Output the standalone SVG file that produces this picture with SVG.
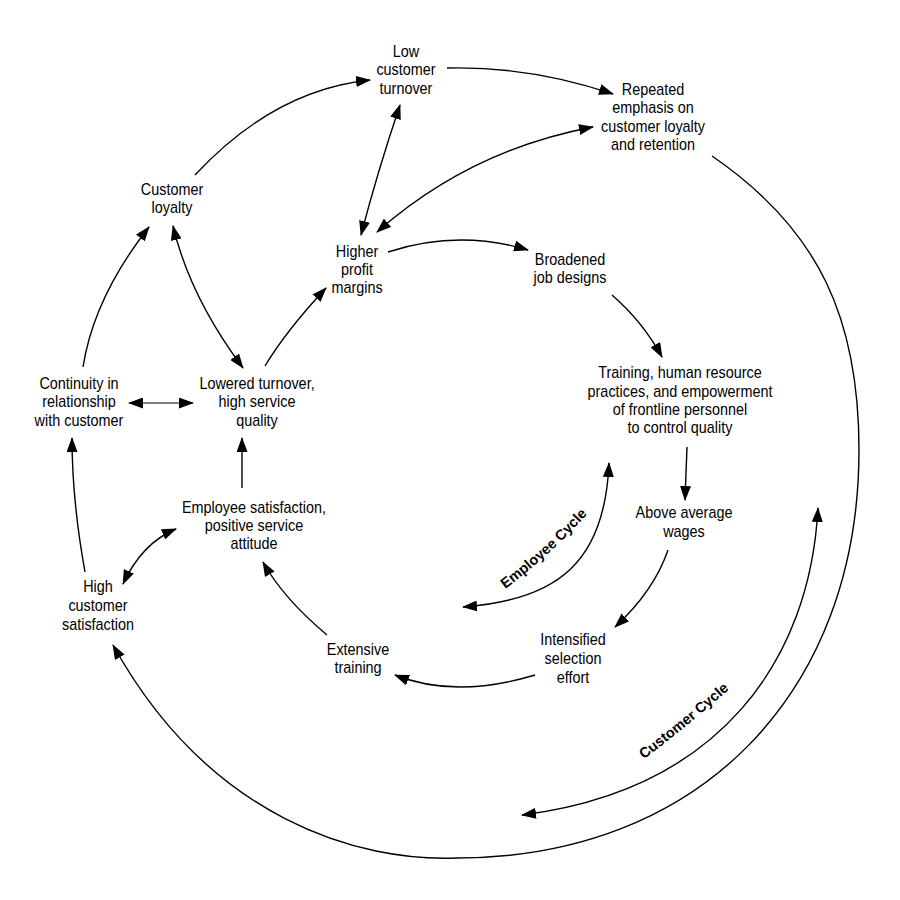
<svg xmlns="http://www.w3.org/2000/svg" width="900" height="900" viewBox="0 0 900 900">
<defs>
<style>
.t{font-family:"Liberation Sans",Arial,sans-serif;font-size:16px;fill:#000;text-anchor:middle}
.lab{font-family:"Liberation Sans",Arial,sans-serif;font-size:14.5px;font-weight:bold;fill:#000;text-anchor:middle}
.c{fill:none;stroke:#000;stroke-width:1.4}
.e{marker-end:url(#ah)}
.b{marker-start:url(#ah);marker-end:url(#ah)}
</style>
<marker id="ah" markerUnits="userSpaceOnUse" markerWidth="15" markerHeight="11" viewBox="0 0 15 11" refX="14" refY="5.5" orient="auto-start-reverse">
<path d="M0,0 L15,5.5 L0,11 z" fill="#000"/>
</marker>
<path id="ecp" d="M490,600 Q550,558 600,500"/>
<path id="ccp" d="M605,787 Q681,735 765,657"/>
</defs>
<rect width="900" height="900" fill="#fff"/>

<g id="connectors">
<path class="c e" d="M195,175 Q274,90 370,80"/>
<path class="c e" d="M447,68 Q530,66 613,94"/>
<path class="c b" d="M400,105 Q378,170 361,235"/>
<path class="c b" d="M377,232 Q470,150 593,127"/>
<path class="c e" d="M388,252 Q458,229 528,250"/>
<path class="c e" d="M612,295 Q643,322 662,357"/>
<path class="c e" d="M687,447 L685,500"/>
<path class="c e" d="M668,550 Q654,591 615,627"/>
<path class="c e" d="M535,675 Q455,699 395,675"/>
<path class="c e" d="M327,635 Q283,598 263,562"/>
<path class="c e" d="M242,488 L242,438"/>
<path class="c b" d="M123,584 Q142,543 176,529"/>
<path class="c e" d="M85,572 Q72,500 72,438"/>
<path class="c b" style="stroke-width:1" d="M129,403 L193,403"/>
<path class="c e" d="M83,367 Q94,297 149,227"/>
<path class="c b" d="M173,226 Q190,297 243,368"/>
<path class="c e" d="M265,366 Q286,331 326,288"/>
<path class="c e" d="M712,156 C820,230 859,320 859,450 C859,695 697,858 457,858 C360,862 210,820 113,645"/>
<path class="c b" d="M818,508 C810,660 720,790 522,815"/>
<path class="c b" d="M609,463 C605,560 560,600 463,607"/>
</g>

<g id="cycle-labels">
<text class="lab"><textPath href="#ecp" startOffset="50%">Employee Cycle</textPath></text>
<text class="lab"><textPath href="#ccp" startOffset="50%">Customer Cycle</textPath></text>
</g>

<g id="low-customer-turnover"><text class="t" transform="translate(406 0) scale(0.9 1)"><tspan x="0" y="57">Low</tspan><tspan x="0" y="75.5">customer</tspan><tspan x="0" y="94">turnover</tspan></text></g>
<g id="repeated-emphasis"><text class="t" transform="translate(653 0) scale(0.9 1)"><tspan x="0" y="95">Repeated</tspan><tspan x="0" y="113">emphasis on</tspan><tspan x="0" y="132">customer loyalty</tspan><tspan x="0" y="150">and retention</tspan></text></g>
<g id="customer-loyalty"><text class="t" transform="translate(172 0) scale(0.9 1)"><tspan x="0" y="195">Customer</tspan><tspan x="0" y="213">loyalty</tspan></text></g>
<g id="higher-profit-margins"><text class="t" transform="translate(357 0) scale(0.9 1)"><tspan x="0" y="257">Higher</tspan><tspan x="0" y="275">profit</tspan><tspan x="0" y="293">margins</tspan></text></g>
<g id="broadened-job-designs"><text class="t" transform="translate(570 0) scale(0.9 1)"><tspan x="0" y="265">Broadened</tspan><tspan x="0" y="283">job designs</tspan></text></g>
<g id="training-hr"><text class="t" transform="translate(680 0) scale(0.9 1)"><tspan x="0" y="378">Training, human resource</tspan><tspan x="0" y="397">practices, and empowerment</tspan><tspan x="0" y="415">of frontline personnel</tspan><tspan x="0" y="433">to control quality</tspan></text></g>
<g id="above-average-wages"><text class="t" transform="translate(684 0) scale(0.9 1)"><tspan x="0" y="518">Above average</tspan><tspan x="0" y="537">wages</tspan></text></g>
<g id="intensified-selection"><text class="t" transform="translate(573 0) scale(0.9 1)"><tspan x="0" y="645">Intensified</tspan><tspan x="0" y="664">selection</tspan><tspan x="0" y="683">effort</tspan></text></g>
<g id="extensive-training"><text class="t" transform="translate(358 0) scale(0.9 1)"><tspan x="0" y="655">Extensive</tspan><tspan x="0" y="673">training</tspan></text></g>
<g id="employee-satisfaction"><text class="t" transform="translate(254 0) scale(0.9 1)"><tspan x="0" y="513">Employee satisfaction,</tspan><tspan x="0" y="531">positive service</tspan><tspan x="0" y="549">attitude</tspan></text></g>
<g id="high-customer-satisfaction"><text class="t" transform="translate(98 0) scale(0.9 1)"><tspan x="0" y="592">High</tspan><tspan x="0" y="611">customer</tspan><tspan x="0" y="630">satisfaction</tspan></text></g>
<g id="continuity"><text class="t" transform="translate(79 0) scale(0.9 1)"><tspan x="0" y="389">Continuity in</tspan><tspan x="0" y="407">relationship</tspan><tspan x="0" y="426">with customer</tspan></text></g>
<g id="lowered-turnover"><text class="t" transform="translate(257 0) scale(0.9 1)"><tspan x="0" y="389">Lowered turnover,</tspan><tspan x="0" y="407">high service</tspan><tspan x="0" y="426">quality</tspan></text></g>
</svg>
